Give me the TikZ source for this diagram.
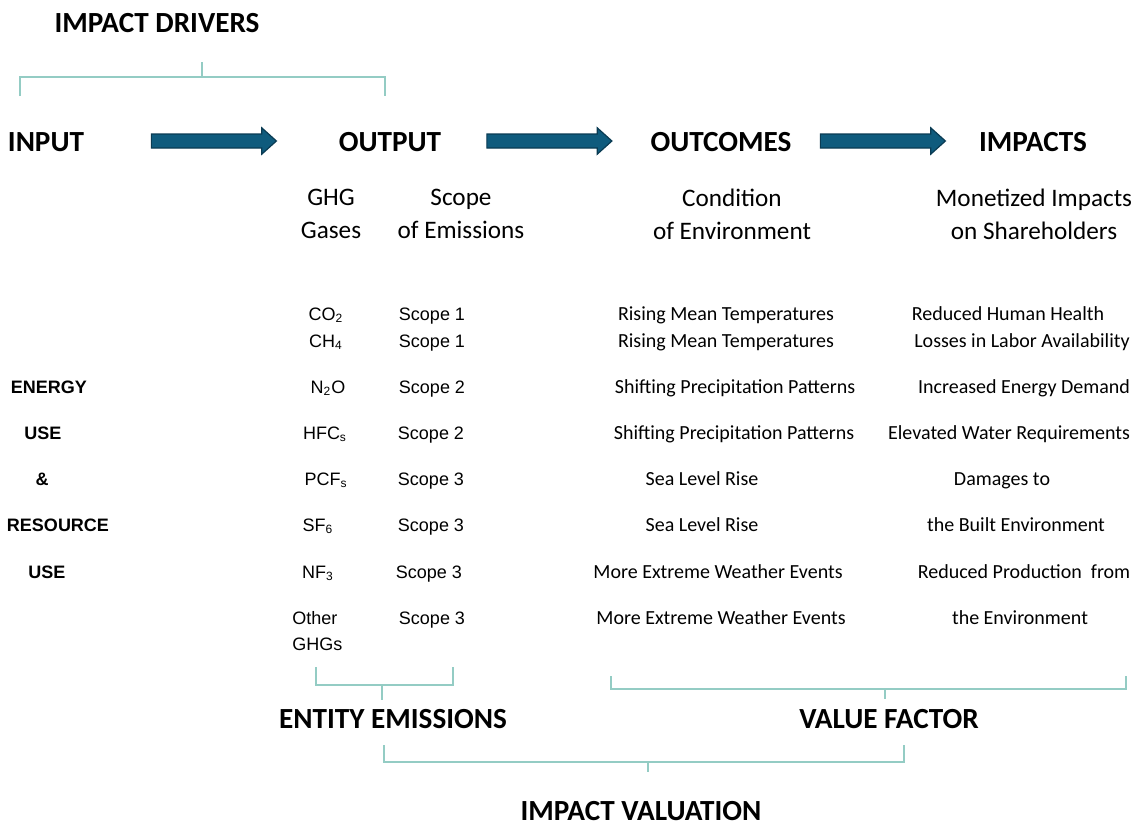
\documentclass[tikz,border=0pt]{standalone}
\usepackage{fontspec}
\setmainfont{Carlito}
\newfontfamily\gasfont{Liberation Sans}
\usepackage{tikz}
\usetikzlibrary{positioning, calc, shapes.arrows}
\definecolor{flowblue}{HTML}{0F5B7D}
\definecolor{flowedge}{HTML}{0A3B53}
\definecolor{braceteal}{HTML}{94CCC4}

\tikzset{
  stage/.style={font=\fontsize{14.6}{17}\selectfont\bfseries, inner sep=0pt, anchor=base},
  colhead/.style={font=\fontsize{12.6}{16.5}\selectfont, align=center, inner sep=0pt},
  cell/.style={font=\fontsize{10}{12}\selectfont, inner sep=0pt, anchor=base},
  gas/.style={font=\gasfont\fontsize{9}{12}\selectfont, inner sep=0pt, anchor=base},
  usage/.style={font=\gasfont\fontsize{9}{12}\selectfont\bfseries, inner sep=0pt, anchor=base},
  flow/.style={single arrow, draw=flowedge, fill=flowblue, line width=0.6pt,
    text height=6.4pt, text depth=0pt, inner sep=0pt,
    minimum height=62.5pt, single arrow head extend=3.1pt,
    single arrow tip angle=84},
  bracket/.style={draw=braceteal, line width=1pt},
}

\begin{document}
\begin{tikzpicture}[x=0.5pt, y=-0.5pt]
  \useasboundingbox (0,0) rectangle (1142,826);

  % stages along the top
  \node[stage] (drivers) at (157,32) {IMPACT DRIVERS};
  \node[stage] (input) at (46,151) {INPUT};
  \node[stage] (output) at (390,151) {OUTPUT};
  \node[stage] (outcomes) at (721,151) {OUTCOMES};
  \node[stage] (impacts) at (1033,151) {IMPACTS};

  \node[flow] (a1) at ($(input.base)!0.5!(output.base)+(-4pt,5pt)$) {};
  \node[flow] (a2) at ($(output.base)!0.5!(outcomes.base)+(-5pt,5pt)$) {};
  \node[flow] (a3) at ($(outcomes.base)!0.5!(impacts.base)+(1pt,5pt)$) {};

  \draw[bracket] (20,96) -- (20,77) -- (385,77) -- (385,96);
  \draw[bracket] (202,77) -- (202,62);

  % column heads
  \node[colhead] (gashead) at (331,214) {GHG\\Gases};
  \node[colhead] (scopehead) at (461,214) {Scope\\of Emissions};
  \node[colhead] (condhead) at (732,214) {Condition\\of Environment};
  \node[colhead] (monhead) at (1034,214) {Monetized Impacts\\on Shareholders};

  % energy and resource use
  \node[usage] (u1) at (49,393) {ENERGY};
  \node[usage] (u2) at (43,439) {USE};
  \node[usage] (u3) at (42,485) {\&};
  \node[usage] (u4) at (58,531) {RESOURCE};
  \node[usage] (u5) at (47,578) {USE};

  % greenhouse gases
  \node[gas] (g1) at (326,320) {CO\textsubscript{2}};
  \node[gas] (g2) at (326,347) {CH\textsubscript{4}};
  \node[gas] (g3) at (328,393) {N\textsubscript{2}O};
  \node[gas] (g4) at (325,439) {HFC\textsubscript{s}};
  \node[gas] (g5) at (326,485) {PCF\textsubscript{s}};
  \node[gas] (g6) at (318,531) {SF\textsubscript{6}};
  \node[gas] (g7) at (318,578) {NF\textsubscript{3}};
  \node[gas, anchor=base west] (g8) at (292,624) {Other};
  \node[gas, anchor=base west] (g8b) at (292,650) {GHGs};

  % scopes
  \node[gas] (s1) at (432,320) {Scope 1};
  \node[gas] (s2) at (432,347) {Scope 1};
  \node[gas] (s3) at (432,393) {Scope 2};
  \node[gas] (s4) at (431,439) {Scope 2};
  \node[gas] (s5) at (431,485) {Scope 3};
  \node[gas] (s6) at (431,531) {Scope 3};
  \node[gas] (s7) at (429,578) {Scope 3};
  \node[gas] (s8) at (432,624) {Scope 3};

  % outcomes
  \node[cell] (o1) at (726,320) {Rising Mean Temperatures};
  \node[cell] (o2) at (726,347) {Rising Mean Temperatures};
  \node[cell] (o3) at (735,393) {Shifting Precipitation Patterns};
  \node[cell] (o4) at (734,439) {Shifting Precipitation Patterns};
  \node[cell] (o5) at (702,485) {Sea Level Rise};
  \node[cell] (o6) at (702,531) {Sea Level Rise};
  \node[cell] (o7) at (718,578) {More Extreme Weather Events};
  \node[cell] (o8) at (721,624) {More Extreme Weather Events};

  % monetized impacts
  \node[cell] (m1) at (1008,320) {Reduced Human Health};
  \node[cell] (m2) at (1022,347) {Losses in Labor Availability};
  \node[cell] (m3) at (1024,393) {Increased Energy Demand};
  \node[cell] (m4) at (1009,439) {Elevated Water Requirements};
  \node[cell] (m5) at (1002,485) {Damages to};
  \node[cell] (m6) at (1016,531) {the Built Environment};
  \node[cell] (m7) at (1024,578) {Reduced Production\ \ from};
  \node[cell] (m8) at (1020,624) {the Environment};

  % groupings underneath
  \draw[bracket] (316,667) -- (316,685) -- (453,685) -- (453,667);
  \draw[bracket] (382,685) -- (382,700);
  \draw[bracket] (611,676) -- (611,689) -- (1126,689) -- (1126,676);
  \draw[bracket] (885,689) -- (885,699);

  \node[stage] (entity) at (393,728) {ENTITY EMISSIONS};
  \node[stage] (value) at (889,728) {VALUE FACTOR};

  \draw[bracket] (384,745) -- (384,762) -- (904,762) -- (904,745);
  \draw[bracket] (648,762) -- (648,772);

  \node[stage] (valuation) at (641,820) {IMPACT VALUATION};
\end{tikzpicture}
\end{document}
